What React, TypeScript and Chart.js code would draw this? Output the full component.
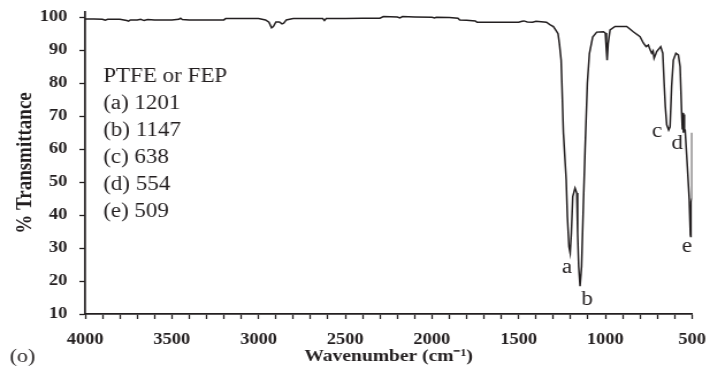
import React, { useEffect, useRef } from 'react';
import { Chart, registerables } from 'chart.js';

Chart.register(...registerables);

// ---- data ----
const wavenumbers = [
  4000, 3950, 3900, 3885, 3870, 3800, 3760, 3750, 3740, 3700, 3680, 3660, 3640, 3600, 3500, 3460, 3450, 3440,
  3400, 3300, 3200, 3190, 3100, 3000, 2960, 2940, 2925, 2915, 2900, 2880, 2865, 2855, 2840, 2800, 2700, 2630,
  2620, 2610, 2500, 2400, 2300, 2280, 2200, 2185, 2170, 2100, 2000, 1985, 1975, 1900, 1850, 1840, 1800, 1750,
  1740, 1700, 1600, 1500, 1480, 1470, 1450, 1420, 1400, 1340, 1320, 1300, 1285, 1273, 1265, 1255, 1250, 1242,
  1226, 1219, 1210, 1203, 1196, 1188, 1175, 1165, 1160, 1154, 1146, 1137, 1127, 1117, 1104, 1092, 1073, 1050,
  1011, 1000, 994, 990, 984, 973, 944, 877, 839, 800, 781, 765, 752, 745, 733, 725, 719, 712, 704, 681, 669,
  661, 654, 646, 635, 627, 618, 608, 593, 579, 569, 560, 556, 553, 550, 547, 544, 540, 527, 516, 510, 508, 505,
  501, 500,
];
const transmittance = [
  99.5, 99.5, 99.4, 99.1, 99.4, 99.4, 99.0, 98.8, 99.2, 99.2, 99.4, 99.0, 99.3, 99.2, 99.2, 99.4, 99.7, 99.3,
  99.2, 99.2, 99.2, 99.6, 99.6, 99.6, 99.2, 98.5, 96.8, 97.2, 98.6, 98.6, 98.0, 98.2, 99.2, 99.6, 99.6, 99.6,
  99.0, 99.6, 99.6, 99.7, 99.7, 100.2, 100.1, 99.8, 100.2, 100.1, 100.0, 99.8, 100.0, 99.9, 99.7, 99.2, 99.1, 98.9,
  98.5, 98.5, 98.5, 98.5, 98.8, 98.9, 98.6, 98.5, 98.8, 98.5, 97.8, 97.2, 96.0, 95.0, 92.0, 87.0, 79.0, 65.0,
  50.7, 39.5, 30.4, 28.5, 34.6, 45.6, 48.2, 46.7, 34.6, 24.4, 18.4, 24.4, 42.6, 59.8, 80.0, 89.0, 94.0, 95.5,
  95.6, 95.2, 90.0, 87.0, 92.0, 96.2, 97.2, 97.2, 95.6, 94.1, 92.2, 91.1, 91.6, 90.5, 89.1, 89.8, 87.6, 88.5, 89.6, 91.1, 89.1,
  80.0, 72.8, 67.4, 65.8, 66.8, 79.0, 87.0, 89.1, 88.6, 85.0, 71.0, 66.0, 71.0, 65.0, 70.5, 66.0, 65.8, 54.7, 44.6, 34.0, 33.5, 44.0,
  45.0, 65.0,
];
const xTickLabels = [4000, 3500, 3000, 2500, 2000, 1500, 1000, 500];
const yTickLabels = [10, 20, 30, 40, 50, 60, 70, 80, 90, 100];
const noteLines = ['PTFE or FEP', '(a) 1201', '(b) 1147', '(c) 638', '(d) 554', '(e) 509'];
const peakLetters = ['a', 'b', 'c', 'd', 'e'];
const panelLabel = '(o)';
const xTitle = 'Wavenumber (cm\u207B\u00B9)';
const yTitle = '% Transmittance';

// ---- presentation ----
const INK = '#231f20';
const SERIF = "'Liberation Serif', 'Times New Roman', serif";
const STRETCH = 1.15; // the reference is horizontally stretched
const CSS_W = 710;
const CSS_H = 369;
const CANVAS_W = Math.round(CSS_W / STRETCH);

// label anchors in data units (wavenumber, %T)
const peakAnchors: [number, number][] = [
  [1221, 24.0],
  [1105, 14.3],
  [702, 65.2],
  [586, 61.6],
  [529, 30.4],
];

const textPlugin = {
  id: 'ftirText',
  afterDraw(chart: any) {
    const { ctx, scales } = chart;
    const xs = scales.x;
    const ys = scales.y;
    ctx.save();
    ctx.fillStyle = INK;
    ctx.font = `20px ${SERIF}`;
    ctx.textBaseline = 'middle';
    // note block
    ctx.textAlign = 'left';
    const nx = xs.getPixelForValue(3896);
    const ny0 = ys.getPixelForValue(82.0);
    noteLines.forEach((t, i) => ctx.fillText(t, nx, ny0 + i * 27.1));
    // peak letters
    ctx.textAlign = 'center';
    peakLetters.forEach((t, i) => {
      const [w, v] = peakAnchors[i];
      ctx.fillText(t, xs.getPixelForValue(w), ys.getPixelForValue(v));
    });
    // panel label
    ctx.textAlign = 'left';
    ctx.font = `19px ${SERIF}`;
    ctx.fillText(panelLabel, 8.5, 357);
    ctx.restore();
  },
};

export default function App() {
  const ref = useRef<HTMLCanvasElement | null>(null);
  useEffect(() => {
    if (!ref.current) return;
    const points = wavenumbers.map((w, i) => ({ x: w, y: transmittance[i] }));
    const chart = new Chart(ref.current, {
      type: 'scatter',
      data: {
        datasets: [
          {
            data: points,
            showLine: true,
            borderColor: INK,
            borderWidth: 1.5,
            pointRadius: 0,
            tension: 0,
          },
        ],
      },
      options: {
        animation: false,
        responsive: false,
        devicePixelRatio: 1,
        layout: { padding: { left: 0, right: CANVAS_W - 601.4, top: 12, bottom: 0 } },
        plugins: { legend: { display: false }, tooltip: { enabled: false } },
        scales: {
          x: {
            type: 'linear',
            position: 'bottom',
            reverse: true,
            min: 500,
            max: 4000,
            border: { display: true, color: INK, width: 1.7 },
            grid: {
              display: true,
              drawOnChartArea: false,
              drawTicks: true,
              tickLength: 5,
              tickColor: INK,
              tickWidth: 1.3,
            },
            ticks: {
              stepSize: 100,
              autoSkip: false,
              maxRotation: 0,
              minRotation: 0,
              padding: 11,
              color: INK,
              font: { family: SERIF, weight: 'bold', size: 16 },
              callback: (v: any) => (xTickLabels.includes(Number(v)) ? String(v) : ''),
            },
            title: {
              display: true,
              text: xTitle,
              color: INK,
              font: { family: SERIF, weight: 'bold', size: 17 },
              padding: { top: 0, bottom: 2 },
            },
            afterFit: (s: any) => {
              s.height = 55;
              s.paddingLeft = 0;
              s.paddingRight = 0;
            },
          },
          y: {
            type: 'linear',
            min: 10,
            max: 101.6,
            border: { display: true, color: INK, width: 1.7 },
            grid: {
              display: true,
              drawOnChartArea: false,
              drawTicks: true,
              tickLength: 5,
              tickColor: INK,
              tickWidth: 1.3,
            },
            ticks: {
              stepSize: 10,
              includeBounds: false,
              padding: 10.5,
              color: INK,
              font: { family: SERIF, weight: 'bold', size: 16 },
              callback: (v: any) => (yTickLabels.includes(Number(v)) ? String(v) : ''),
            },
            afterBuildTicks: (s: any) => {
              s.ticks = s.ticks.filter((t: any) => yTickLabels.includes(t.value));
            },
            title: {
              display: true,
              text: yTitle,
              color: INK,
              font: { family: SERIF, weight: 'bold', size: 19 },
              padding: { top: 11, bottom: 0 },
            },
            afterFit: (s: any) => {
              s.width = 74;
              s.paddingTop = 0;
              s.paddingBottom = 0;
            },
          },
        },
      },
      plugins: [textPlugin],
    });
    return () => chart.destroy();
  }, []);

  return (
    <div style={{ position: 'fixed', left: 0, top: 0, width: CSS_W, height: CSS_H, background: '#fff' }}>
      <canvas
        ref={ref}
        width={CANVAS_W}
        height={CSS_H}
        style={{ width: `${CSS_W}px`, height: `${CSS_H}px`, display: 'block' }}
      />
    </div>
  );
}
